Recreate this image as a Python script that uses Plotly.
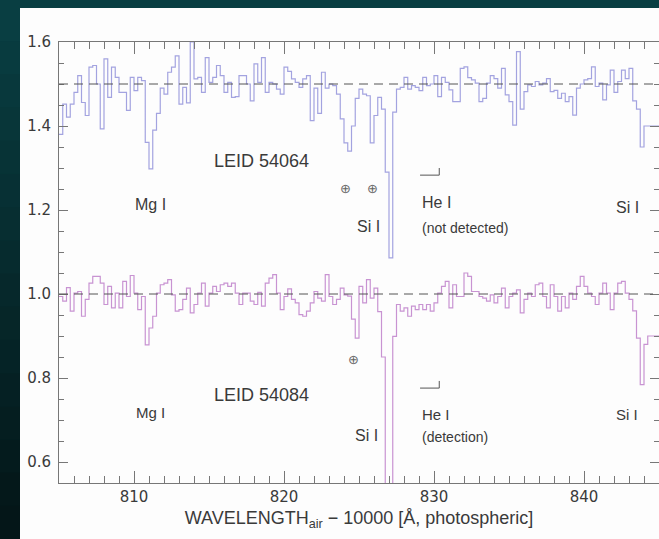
import plotly.graph_objects as go

# ---------------- data ----------------
wave_start = 805.0      # Å (minus 10000), first bin start
wave_step = 0.25        # Å per spectral bin

flux_54064 = [
    1.380, 1.452, 1.421, 1.452, 1.480, 1.520, 1.456, 1.425, 1.540, 1.544,
    1.500, 1.393, 1.560, 1.468, 1.540, 1.516, 1.480, 1.480, 1.437, 1.516,
    1.484, 1.516, 1.508, 1.361, 1.298, 1.390, 1.430, 1.490, 1.476, 1.528,
    1.540, 1.567, 1.452, 1.492, 1.455, 1.600, 1.512, 1.516, 1.480, 1.563,
    1.504, 1.516, 1.544, 1.520, 1.480, 1.504, 1.468, 1.470, 1.520, 1.520,
    1.500, 1.460, 1.548, 1.504, 1.563, 1.480, 1.504, 1.500, 1.488, 1.476,
    1.540, 1.530, 1.512, 1.504, 1.492, 1.512, 1.520, 1.413, 1.490, 1.430,
    1.528, 1.490, 1.500, 1.496, 1.476, 1.417, 1.360, 1.340, 1.400, 1.466,
    1.488, 1.476, 1.472, 1.360, 1.425, 1.468, 1.440, 1.290, 1.086, 1.433,
    1.488, 1.492, 1.516, 1.488, 1.496, 1.492, 1.484, 1.516, 1.496, 1.500,
    1.520, 1.470, 1.516, 1.504, 1.486, 1.458, 1.458, 1.537, 1.541, 1.515,
    1.510, 1.502, 1.458, 1.466, 1.502, 1.520, 1.513, 1.490, 1.537, 1.474,
    1.458, 1.402, 1.577, 1.440, 1.482, 1.498, 1.494, 1.506, 1.498, 1.502,
    1.513, 1.482, 1.485, 1.466, 1.478, 1.458, 1.470, 1.426, 1.490, 1.500,
    1.510, 1.513, 1.541, 1.494, 1.502, 1.462, 1.498, 1.533, 1.480, 1.506,
    1.533, 1.513, 1.537, 1.460, 1.440, 1.350, 1.400, 1.400, 1.400, 1.400,
]

flux_54084 = [
    0.994, 0.983, 1.015, 0.959, 1.002, 1.006, 0.947, 0.987, 1.026, 1.042,
    1.042, 1.026, 0.975, 1.018, 0.967, 1.002, 0.967, 1.030, 0.994, 1.044,
    1.002, 0.963, 0.994, 0.879, 0.919, 0.947, 1.002, 1.022, 1.026, 1.034,
    0.998, 0.959, 0.963, 0.987, 1.014, 0.955, 0.975, 1.002, 1.026, 0.971,
    1.002, 1.018, 1.006, 1.022, 1.026, 1.018, 1.026, 1.002, 0.975, 1.002,
    1.002, 0.983, 0.975, 1.004, 0.971, 1.026, 1.038, 1.046, 1.002, 0.963,
    0.994, 1.012, 0.987, 0.979, 0.951, 0.947, 0.959, 0.979, 1.006, 0.990,
    0.983, 1.046, 0.994, 0.975, 0.987, 1.014, 0.998, 0.995, 0.940, 0.895,
    1.018, 0.979, 1.034, 0.990, 1.014, 0.958, 0.850, 0.520, 0.520, 0.899,
    0.975, 0.959, 0.967, 0.947, 0.971, 0.963, 0.975, 0.963, 0.975, 0.959,
    0.979, 1.002, 1.018, 1.030, 0.967, 1.022, 0.994, 0.994, 1.050, 1.042,
    1.006, 1.006, 0.994, 0.990, 0.983, 0.998, 0.979, 0.994, 1.014, 0.967,
    0.994, 1.002, 1.010, 0.955, 0.987, 1.002, 0.994, 1.022, 1.026, 0.994,
    0.967, 1.022, 0.994, 0.959, 0.994, 0.967, 1.002, 0.987, 1.018, 1.042,
    1.018, 1.002, 0.994, 0.975, 1.002, 1.026, 1.002, 0.963, 1.002, 1.026,
    1.030, 1.002, 0.987, 0.960, 0.895, 0.784, 0.880, 0.900, 0.900, 0.900,
]

continuum_levels = [1.5, 1.0]
x_ticks = [810, 820, 830, 840]
y_ticks = [0.6, 0.8, 1.0, 1.2, 1.4, 1.6]

# ---------------- layout geometry ----------------
W, H = 659, 539
ML, MR, MT, MB = 59, 0, 42, 56
PW, PH = W - ML - MR, H - MT - MB


def px_x(px):
    return (px - ML) / PW


def px_y(py):
    return (H - MB - py) / PH


n = len(flux_54064)
wave = [wave_start + wave_step * i for i in range(n)]
wave_edges = wave + [wave_start + wave_step * n]

fig = go.Figure()

fig.add_trace(go.Scatter(
    x=wave_edges, y=flux_54064 + [flux_54064[-1]], mode="lines",
    line=dict(color="#a3a3e0", width=1.2, shape="hv"),
    hoverinfo="skip", showlegend=False))
fig.add_trace(go.Scatter(
    x=wave_edges, y=flux_54084 + [flux_54084[-1]], mode="lines",
    line=dict(color="#c893d2", width=1.2, shape="hv"),
    hoverinfo="skip", showlegend=False))

shapes = []
# left gradient strip
nseg = 16
for k in range(nseg):
    t = k / (nseg - 1)
    r = int(9 + (4 - 9) * t)
    g = int(62 + (22 - 62) * t)
    b = int(66 + (24 - 66) * t)
    y0p = 8 + (H - 8) * k / nseg
    y1p = 8 + (H - 8) * (k + 1) / nseg
    shapes.append(dict(type="rect", xref="paper", yref="paper",
                       x0=px_x(-2), x1=px_x(20), y0=px_y(y1p + 0.5), y1=px_y(y0p),
                       fillcolor=f"rgb({r},{g},{b})", line_width=0, layer="below"))
# top dark band
shapes.append(dict(type="rect", xref="paper", yref="paper",
                   x0=px_x(-2), x1=px_x(W + 2), y0=px_y(8), y1=px_y(-2),
                   fillcolor="rgb(9,62,66)", line_width=0, layer="below"))
# white panel
shapes.append(dict(type="rect", xref="paper", yref="paper",
                   x0=px_x(20), x1=px_x(W + 2), y0=px_y(H + 2), y1=px_y(8),
                   fillcolor="#fdfdfd", line_width=0, layer="below"))
# dashed continuum lines
for lev in continuum_levels:
    shapes.append(dict(type="line", xref="paper", yref="y",
                       x0=0, x1=1, y0=lev, y1=lev,
                       line=dict(color="#555555", width=1, dash="9px,6px")))
# He I markers
for yb, yt in [(1.283, 1.300), (0.776, 0.793)]:
    shapes.append(dict(type="line", x0=829.07, x1=830.35, y0=yb, y1=yb,
                       line=dict(color="#555555", width=1)))
    shapes.append(dict(type="line", x0=830.35, x1=830.35, y0=yb, y1=yt,
                       line=dict(color="#555555", width=1)))

txt = "#3a3a3a"
FONT = "Liberation Sans, Arial, sans-serif"
ann = []


def add(text, x, y, size, xanchor="center", color=txt, family=FONT):
    ann.append(dict(text=text, x=x, y=y, xref="x", yref="y", showarrow=False,
                    xanchor=xanchor, yanchor="middle",
                    font=dict(family=family, size=size, color=color)))


SYM = "DejaVu Sans, sans-serif"
add("LEID 54064", 818.53, 1.317, 18)
add("Mg I", 811.07, 1.212, 16)
add("⊕", 824.07, 1.252, 13, color="#666666", family=SYM)
add("⊕", 825.87, 1.252, 13, color="#666666", family=SYM)
add("Si I", 825.6, 1.160, 16)
add("He I", 829.07, 1.217, 16, xanchor="left")
add("(not detected)", 829.07, 1.157, 14, xanchor="left")
add("Si I", 842.87, 1.207, 16)

add("LEID 54084", 818.53, 0.760, 18)
add("Mg I", 811.07, 0.717, 15)
add("⊕", 824.6, 0.843, 13, color="#666666", family=SYM)
add("Si I", 825.47, 0.664, 16)
add("He I", 829.07, 0.712, 15, xanchor="left")
add("(detection)", 829.07, 0.660, 14, xanchor="left")
add("Si I", 842.87, 0.712, 15)

axis_common = dict(showline=True, linecolor="#777777", linewidth=1,
                   mirror="allticks", ticks="inside", showgrid=False,
                   zeroline=False, tickcolor="#777777",
                   tickfont=dict(family="DejaVu Sans, sans-serif", size=15, color=txt))

fig.update_xaxes(range=[805, 845], tickvals=x_ticks, ticklen=12,
                 title=dict(text="WAVELENGTH<sub>air</sub> − 10000 [Å, photospheric]",
                            font=dict(family=FONT, size=18, color=txt), standoff=6),
                 minor=dict(ticks="inside", dtick=1, tick0=805, ticklen=7,
                            tickcolor="#777777", showgrid=False),
                 **axis_common)
fig.update_yaxes(range=[0.55, 1.6], tickvals=y_ticks, tickformat=".1f",
                 ticklen=9, ticklabelstandoff=4,
                 minor=dict(ticks="inside", dtick=0.05, tick0=0.55, ticklen=5,
                            tickcolor="#777777", showgrid=False),
                 **axis_common)

fig.update_layout(width=W, height=H,
                  margin=dict(l=ML, r=MR, t=MT, b=MB, pad=0, autoexpand=False),
                  paper_bgcolor="rgb(9,62,66)", plot_bgcolor="rgba(0,0,0,0)",
                  shapes=shapes, annotations=ann, showlegend=False)

fig.write_html("out.html",
               config={"displayModeBar": False},
               post_script="document.body.style.margin='0';"
                           "document.body.style.padding='0';"
                           "document.body.style.overflow='hidden';")
